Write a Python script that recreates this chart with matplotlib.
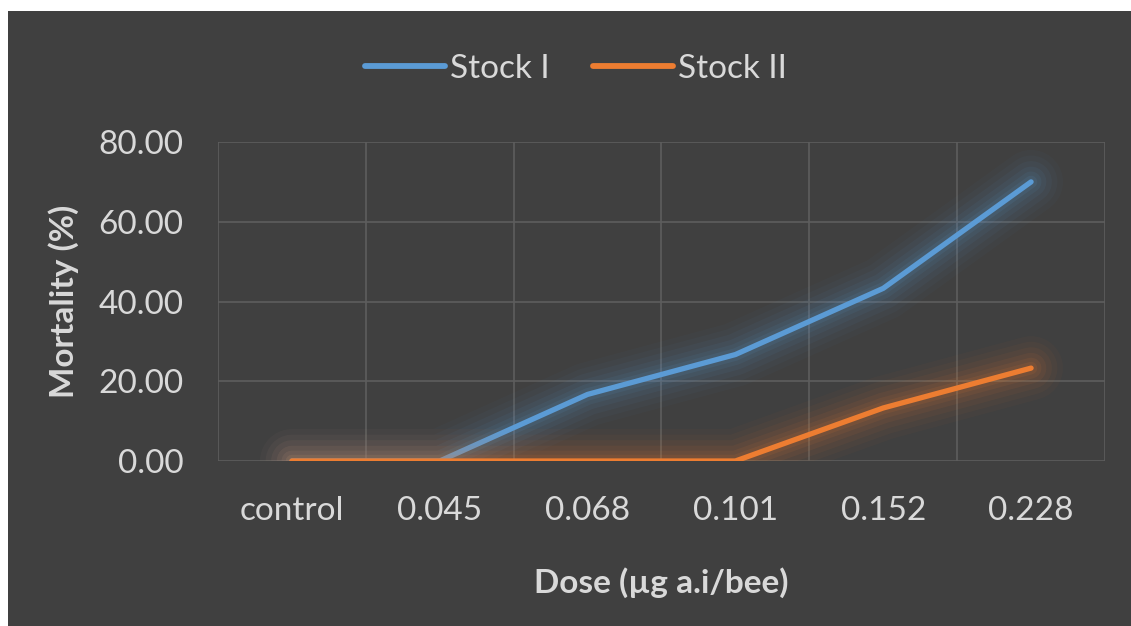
import matplotlib
matplotlib.use("Agg")
import matplotlib.pyplot as plt
import numpy as np

categories = ["control", "0.045", "0.068", "0.101", "0.152", "0.228"]
stock_i = [0.0, 0.0, 16.7, 26.7, 43.3, 70.0]
stock_ii = [0.0, 0.0, 0.0, 0.0, 13.3, 23.3]
y_ticks = [0, 20, 40, 60, 80]

BG = "#404040"
GRID = "#5e5e5e"
TXT = "#d9d9d9"
FONT = ["Lato", "DejaVu Sans"]
FS = 24

plt.rcParams["font.family"] = FONT

fig = plt.figure(figsize=(11.31, 6.26), dpi=100)
fig.patch.set_facecolor("white")
fig.patches.append(plt.Rectangle((8 / 1131, 0), 1 - 8 / 1131, 1 - 11 / 626,
                                 transform=fig.transFigure, facecolor=BG,
                                 edgecolor="none", zorder=-10))

ax = fig.add_axes([218 / 1131, 1 - 461 / 626, 887 / 1131, 319 / 626])
ax.set_facecolor(BG)
x = np.arange(len(categories))
ax.set_xlim(-0.5, len(categories) - 0.5)
ax.set_ylim(0, 80)

for xv in np.arange(-0.5, len(categories), 1.0):
    ax.axvline(xv, color=GRID, lw=1.2, zorder=0)
for yv in y_ticks:
    ax.axhline(yv, color=GRID, lw=1.2, zorder=0)
for s in ax.spines.values():
    s.set_visible(False)

def glow_line(xs, ys, color, label, z):
    for w, a in [(46, 0.03), (38, 0.04), (30, 0.05), (22, 0.065), (15, 0.08), (9, 0.10)]:
        ax.plot(xs, ys, color=color, lw=w, alpha=a, solid_capstyle="round",
                solid_joinstyle="round", zorder=z)
    ax.plot(xs, ys, color=color, lw=3.8, solid_capstyle="round",
            solid_joinstyle="round", zorder=z + 1, label=label)

glow_line(x, stock_i, "#5B9BD5", "Stock I", 2)
glow_line(x, stock_ii, "#ED7D31", "Stock II", 4)

ax.set_xticks(x)
ax.set_xticklabels(categories)
ax.set_yticks(y_ticks)
ax.set_yticklabels([f"{v:.2f}" for v in y_ticks])
ax.tick_params(axis="both", length=0, colors=TXT, labelsize=FS)
ax.tick_params(axis="x", pad=25)
ax.tick_params(axis="y", pad=25)

ax.set_xlabel("Dose (µg a.i/bee)", color=TXT, fontsize=FS, fontweight="bold",
              labelpad=30)
ax.set_ylabel("Mortality (%)", color=TXT, fontsize=FS, fontweight="bold",
              labelpad=14)

handles, labels = ax.get_legend_handles_labels()
leg = fig.legend(handles, labels, loc="center", bbox_to_anchor=(576 / 1131, 1 - 69 / 626),
                 ncol=2, frameon=False, fontsize=FS, handlelength=2.4,
                 handletextpad=0.15, columnspacing=1.3)
for t in leg.get_texts():
    t.set_color(TXT)
for h in leg.get_lines():
    h.set_linewidth(4.2)

fig.savefig("out.png", dpi=100, facecolor=fig.get_facecolor())
